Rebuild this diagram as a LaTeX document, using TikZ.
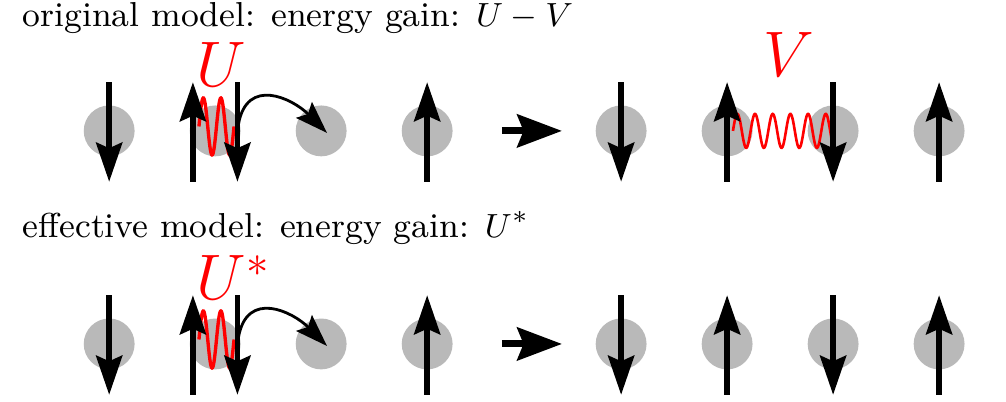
\documentclass[tikz,border=0pt]{standalone}
\usetikzlibrary{arrows.meta}
\begin{document}
\begin{tikzpicture}[scale=1.0,
        site/.style={circle, fill=gray!55, minimum size=0.48cm, inner sep=0pt},
        spin/.style={line width=1.5pt, -{Stealth[length=10.5pt, width=7pt, inset=1.5pt]}},
        hop/.style={line width=0.75pt, -{Stealth[length=8.7pt, width=6pt, inset=1.5pt]}},
        transition/.style={line width=1.9pt, -{Stealth[length=12pt, width=8.8pt, inset=1.7pt]}},
        title/.style={anchor=base west, inner sep=0pt, font=\fontsize{9.3}{11}\selectfont},
        coupling/.style={red, anchor=base west, inner sep=0pt, font=\fontsize{16.7}{19}\selectfont}]
        \useasboundingbox (0,0) rectangle (9.491,3.792);

        % Titles
        \node[title] (orig) at (0.208,3.538) {original model: energy gain: $U-V$};
        \node[title] (eff) at (0.208,1.547) {effective model: energy gain: $U^*$};

        % Lattice sites, top row (t) and bottom row (b)
        \foreach \x [count=\i] in {1.03, 2.03, 3.03, 4.03, 5.86, 6.86, 7.86, 8.86} {
            \node[site] (t\i) at (\x,2.557) {};
            \node[site] (b\i) at (\x,0.547) {};
        }

        % On-site interaction U (both rows)
        \foreach \y in {2.599, 0.589} {
            \draw[red, line width=0.9pt] plot[domain=0:720, samples=100, smooth]
                ({1.877+\x/720*0.331}, {\y+0.269*sin(\x)});
        }

        % Nearest-neighbour interaction V (top row)
        \draw[red, line width=0.7pt] plot[domain=0:2016, samples=200, smooth]
            ({6.915+\x/2016*0.934}, {2.557+0.16*sin(\x)});

        % Spins
        \foreach \y in {2.557, 0.547} {
            \foreach \x in {1.03, 2.24, 5.86, 7.86}
                \draw[spin] (\x,\y+0.46) -- (\x,\y-0.48);
            \foreach \x in {1.82, 4.03, 6.86, 8.86}
                \draw[spin] (\x,\y-0.48) -- (\x,\y+0.46);
        }

        % Hopping to the empty site
        \coordinate (hopT) at (2.25,2.62);
        \coordinate (hopB) at (2.25,0.61);
        \coordinate (landT) at (3.085,2.538);
        \coordinate (landB) at (3.085,0.528);
        \draw[hop] (hopT) to[out=80, in=135, looseness=1.4] (landT);
        \draw[hop] (hopB) to[out=80, in=135, looseness=1.4] (landB);

        % Transition arrows
        \coordinate (fromT) at (4.736,2.557);
        \coordinate (toT) at (5.302,2.557);
        \coordinate (fromB) at (4.736,0.547);
        \coordinate (toB) at (5.302,0.547);
        \draw[transition] (fromT) -- (toT);
        \draw[transition] (fromB) -- (toB);

        % Interaction labels
        \node[coupling] (labU) at (1.85,2.976) {$U$};
        \node[coupling] (labUs) at (1.85,0.966) {$U^*$};
        \node[coupling] (labV) at (7.2,3.066) {$V$};

    \end{tikzpicture}
\end{document}
